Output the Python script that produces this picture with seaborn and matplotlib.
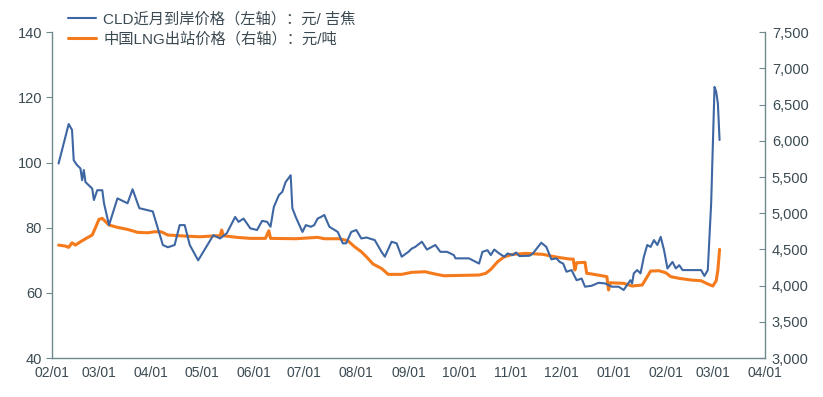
import matplotlib
matplotlib.use("Agg")
import matplotlib.pyplot as plt
import matplotlib.ticker as ticker
from matplotlib import dates as mdates
import pandas as pd
import seaborn as sns

# CLD near-month landed price (left axis, yuan/GJ)
cld_dates = ['2021-02-05', '2021-02-11', '2021-02-13', '2021-02-14', '2021-02-16', '2021-02-18',
             '2021-02-19', '2021-02-20', '2021-02-21', '2021-02-23', '2021-02-25', '2021-02-26',
             '2021-02-28', '2021-03-03', '2021-03-04', '2021-03-07', '2021-03-12', '2021-03-18',
             '2021-03-21', '2021-03-25', '2021-04-02', '2021-04-08', '2021-04-11', '2021-04-15',
             '2021-04-18', '2021-04-21', '2021-04-24', '2021-04-29', '2021-05-08', '2021-05-12',
             '2021-05-16', '2021-05-21', '2021-05-23', '2021-05-26', '2021-05-30', '2021-06-03',
             '2021-06-06', '2021-06-09', '2021-06-11', '2021-06-13', '2021-06-16', '2021-06-18',
             '2021-06-20', '2021-06-23', '2021-06-24', '2021-06-26', '2021-06-30', '2021-07-02',
             '2021-07-05', '2021-07-07', '2021-07-09', '2021-07-11', '2021-07-13', '2021-07-16',
             '2021-07-21', '2021-07-24', '2021-07-26', '2021-07-29', '2021-08-01', '2021-08-04',
             '2021-08-07', '2021-08-12', '2021-08-16', '2021-08-18', '2021-08-22', '2021-08-25',
             '2021-08-28', '2021-09-01', '2021-09-03', '2021-09-05', '2021-09-09', '2021-09-12',
             '2021-09-17', '2021-09-20', '2021-09-24', '2021-09-28', '2021-09-29', '2021-10-07',
             '2021-10-13', '2021-10-15', '2021-10-18', '2021-10-20', '2021-10-22', '2021-10-25',
             '2021-10-28', '2021-10-30', '2021-11-02', '2021-11-04', '2021-11-06', '2021-11-12',
             '2021-11-14', '2021-11-17', '2021-11-19', '2021-11-22', '2021-11-25', '2021-11-28',
             '2021-11-30', '2021-12-02', '2021-12-04', '2021-12-07', '2021-12-10', '2021-12-13',
             '2021-12-15', '2021-12-19', '2021-12-23', '2021-12-27', '2021-12-31', '2022-01-04',
             '2022-01-07', '2022-01-11', '2022-01-12', '2022-01-13', '2022-01-15', '2022-01-17',
             '2022-01-19', '2022-01-21', '2022-01-23', '2022-01-25', '2022-01-27', '2022-01-29',
             '2022-01-31', '2022-02-02', '2022-02-05', '2022-02-07', '2022-02-09', '2022-02-11',
             '2022-02-22', '2022-02-24', '2022-02-26', '2022-02-28', '2022-03-02', '2022-03-03',
             '2022-03-04', '2022-03-05']
cld_values = [99.7, 111.8, 110.0, 100.7, 99.2, 98.2,
              94.6, 97.7, 94.0, 93.0, 92.0, 88.5,
              91.5, 91.5, 87.5, 80.8, 89.0, 87.5,
              91.8, 86.0, 85.0, 74.7, 74.0, 74.7,
              80.8, 80.8, 74.7, 70.0, 77.7, 76.7,
              78.3, 83.3, 81.8, 82.8, 79.8, 79.3,
              82.1, 81.8, 80.3, 86.4, 90.0, 91.0,
              94.0, 96.1, 86.0, 83.3, 78.7, 80.8,
              80.3, 80.8, 82.8, 83.3, 83.9, 80.3,
              78.7, 75.2, 75.2, 78.7, 79.3, 76.7,
              77.0, 76.2, 72.6, 71.1, 75.7, 75.2,
              71.1, 72.6, 73.6, 74.1, 75.7, 73.3,
              74.7, 72.6, 72.6, 71.6, 70.6, 70.6,
              69.0, 72.6, 73.1, 71.6, 73.3, 72.1,
              71.1, 72.1, 71.6, 72.4, 71.3, 71.4,
              72.1, 74.1, 75.4, 74.1, 70.3, 70.6,
              69.5, 69.0, 66.5, 67.0, 63.9, 64.4,
              61.9, 62.2, 63.1, 62.9, 61.9, 61.9,
              60.9, 63.9, 62.9, 66.0, 67.0, 66.0,
              71.1, 74.7, 74.1, 76.2, 74.7, 77.2,
              73.1, 67.5, 69.5, 67.5, 68.5, 67.0,
              67.0, 65.2, 67.0, 87.5, 123.2, 121.7,
              118.1, 106.9]

# China LNG ex-terminal price (right axis, yuan/t)
lng_dates = ['2021-02-05', '2021-02-09', '2021-02-11', '2021-02-13', '2021-02-15', '2021-02-18',
             '2021-02-22', '2021-02-25', '2021-02-27', '2021-03-01', '2021-03-03', '2021-03-05',
             '2021-03-07', '2021-03-12', '2021-03-18', '2021-03-24', '2021-03-30', '2021-04-03',
             '2021-04-07', '2021-04-11', '2021-04-21', '2021-04-30', '2021-05-10', '2021-05-12',
             '2021-05-13', '2021-05-14', '2021-05-22', '2021-05-30', '2021-06-08', '2021-06-10',
             '2021-06-11', '2021-06-26', '2021-07-09', '2021-07-13', '2021-07-22', '2021-07-27',
             '2021-07-31', '2021-08-04', '2021-08-07', '2021-08-11', '2021-08-16', '2021-08-20',
             '2021-08-28', '2021-09-03', '2021-09-11', '2021-09-17', '2021-09-22', '2021-10-13',
             '2021-10-17', '2021-10-20', '2021-10-24', '2021-10-28', '2021-11-02', '2021-11-10',
             '2021-11-20', '2021-11-24', '2021-11-29', '2021-12-06', '2021-12-08', '2021-12-09',
             '2021-12-10', '2021-12-15', '2021-12-16', '2021-12-18', '2021-12-26', '2021-12-28',
             '2021-12-29', '2021-12-30', '2022-01-07', '2022-01-12', '2022-01-18', '2022-01-21',
             '2022-01-23', '2022-01-28', '2022-02-01', '2022-02-04', '2022-02-09', '2022-02-16',
             '2022-02-22', '2022-02-26', '2022-03-01', '2022-03-03', '2022-03-04', '2022-03-05']
lng_values = [4560, 4547, 4529, 4592, 4560, 4606,
              4661, 4699, 4805, 4915, 4929, 4882,
              4837, 4805, 4777, 4736, 4730, 4744,
              4744, 4699, 4685, 4675, 4689, 4689,
              4768, 4689, 4667, 4653, 4653, 4758,
              4653, 4648, 4667, 4648, 4648, 4620,
              4537, 4468, 4399, 4298, 4238, 4156,
              4156, 4184, 4192, 4160, 4137, 4147,
              4170, 4225, 4330, 4399, 4432, 4446,
              4432, 4413, 4391, 4367, 4367, 4216,
              4316, 4322, 4170, 4165, 4133, 4124,
              3940, 4040, 4032, 3995, 4009, 4124,
              4202, 4206, 4178, 4124, 4101, 4078,
              4068, 4023, 3995, 4068, 4216, 4501]

cld_label = 'CLD近月到岸价格（左轴）：元/ 吉焦'
lng_label = '中国LNG出站价格（右轴）：元/吨'

cld = pd.DataFrame({'date': pd.to_datetime(cld_dates), 'value': cld_values})
lng = pd.DataFrame({'date': pd.to_datetime(lng_dates), 'value': lng_values})

sns.set_style('white')
plt.rcParams['font.family'] = ['Liberation Sans', 'Noto Sans CJK SC']

blue = '#3d66a3'
orange = '#f57a1c'
axis_col = '#6f8a8e'
text_col = '#3b4a52'

fig, ax = plt.subplots(figsize=(8.23, 3.97), dpi=100)
fig.subplots_adjust(left=0.063, right=0.9295, bottom=0.098, top=0.919)
ax2 = ax.twinx()

sns.lineplot(data=cld, x='date', y='value', ax=ax, color=blue, linewidth=1.5, label=cld_label, legend=False)
sns.lineplot(data=lng, x='date', y='value', ax=ax2, color=orange, linewidth=2.2, label=lng_label, legend=False)

ax.set_zorder(ax2.get_zorder() + 1)
ax.patch.set_visible(False)

ax.set_xlim(pd.Timestamp('2021-02-01'), pd.Timestamp('2022-04-01'))
ax.set_ylim(40, 140)
ax2.set_ylim(3000, 7500)
ax.yaxis.set_major_locator(ticker.MultipleLocator(20))
ax2.yaxis.set_major_locator(ticker.MultipleLocator(500))
ax2.yaxis.set_major_formatter(ticker.FuncFormatter(lambda v, p: '{:,.0f}'.format(v)))
ax.xaxis.set_major_locator(mdates.MonthLocator())
ax.xaxis.set_major_formatter(mdates.DateFormatter('%m/%d'))

ax.set_xlabel('')
ax.set_ylabel('')
ax2.set_ylabel('')

for a in (ax, ax2):
    for s in a.spines.values():
        s.set_color(axis_col)
        s.set_linewidth(1.0)
    a.spines['top'].set_visible(False)
ax.spines['right'].set_visible(False)
ax2.spines['left'].set_visible(False)
ax2.spines['bottom'].set_visible(False)

ax.tick_params(axis='x', direction='in', length=5, color=axis_col, labelcolor=text_col, labelsize=10, pad=6)
ax.tick_params(axis='y', direction='out', length=4, color=axis_col, labelcolor=text_col, labelsize=10.5, pad=3)
ax2.tick_params(axis='y', direction='in', length=4, color=axis_col, labelcolor=text_col, labelsize=10.5, pad=5)

h1, l1 = ax.get_legend_handles_labels()
h2, l2 = ax2.get_legend_handles_labels()
fig.legend(h1 + h2, l1 + l2, loc='upper left', bbox_to_anchor=(0.066, 1.005), frameon=False,
           fontsize=11, handlelength=1.8, handletextpad=0.5, labelspacing=0.35, labelcolor=text_col)

fig.savefig('out.png', dpi=100)
